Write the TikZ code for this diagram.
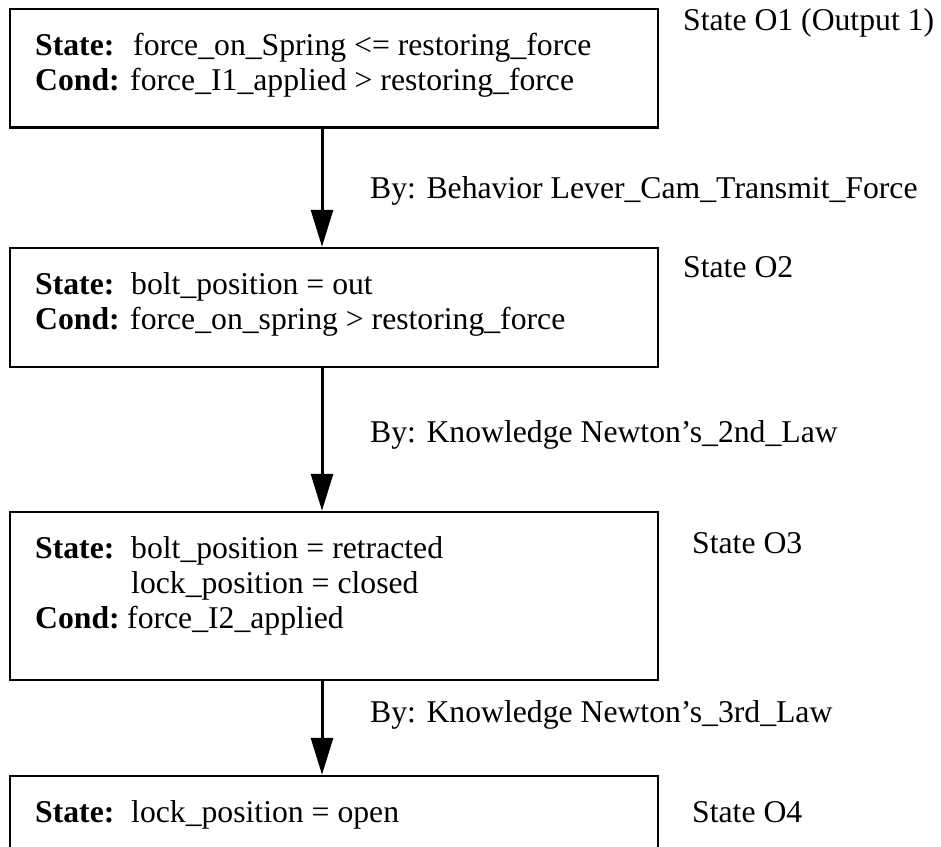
\documentclass[tikz,border=0pt]{standalone}
\usepackage{fontspec}
\setmainfont{Liberation Serif}
\usetikzlibrary{arrows.meta}
\begin{document}
\begin{tikzpicture}[x=1pt,y=-1pt,
  statebox/.style={draw,line width=2.5pt,rectangle,inner sep=0pt,minimum width=648pt},
  txt/.style={anchor=base west,inner sep=0pt,font=\fontsize{31.7}{35}\selectfont},
  flow/.style={line width=3pt,-{Triangle[width=22pt,length=37pt]}}]
\clip (0,0) rectangle (941,846);

% state boxes (the last one runs off the bottom edge)
\node[statebox,minimum height=118.5pt] (b1) at (334,68.25) {};
\node[statebox,minimum height=119pt]   (b2) at (334,307.5) {};
\node[statebox,minimum height=168pt]   (b3) at (334,596) {};
\node[statebox,minimum height=124pt]   (b4) at (334,838) {};

% box contents
\node[txt] (s1)  at (35,55)  {\textbf{State:}};
\node[txt] (s1v) at (133,55) {force\_on\_Spring <= restoring\_force};
\node[txt] (c1)  at (35,90)  {\textbf{Cond:}};
\node[txt] (c1v) at (130,90) {force\_I1\_applied > restoring\_force};

\node[txt] (s2)  at (35,294)  {\textbf{State:}};
\node[txt] (s2v) at (131,294) {bolt\_position = out};
\node[txt] (c2)  at (35,329)  {\textbf{Cond:}};
\node[txt] (c2v) at (130,329) {force\_on\_spring > restoring\_force};

\node[txt] (s3)  at (35,558)  {\textbf{State:}};
\node[txt] (s3v) at (131,558) {bolt\_position = retracted};
\node[txt] (s3w) at (131,593) {lock\_position = closed};
\node[txt] (c3)  at (35,628)  {\textbf{Cond:}};
\node[txt] (c3v) at (127,628) {force\_I2\_applied};

\node[txt] (s4)  at (35,822)  {\textbf{State:}};
\node[txt] (s4v) at (131,822) {lock\_position = open};

% state names beside the boxes
\node[txt] (n1) at (683,30)  {State O1 (Output 1)};
\node[txt] (n2) at (683,277) {State O2};
\node[txt] (n3) at (692,553) {State O3};
\node[txt] (n4) at (692,822) {State O4};

% transitions
\draw[flow] ([xshift=-12pt]b1.south) -- ([xshift=-12pt]b2.north);
\draw[flow] ([xshift=-12pt]b2.south) -- ([xshift=-12pt]b3.north);
\draw[flow] ([xshift=-12pt]b3.south) -- ([xshift=-12pt]b4.north);

\node[txt] (t1) at (370,198) {By: Behavior Lever\_Cam\_Transmit\_Force};
\node[txt] (t2) at (370,442) {By: Knowledge Newton's\_2nd\_Law};
\node[txt] (t3) at (370,722) {By: Knowledge Newton's\_3rd\_Law};
\end{tikzpicture}
\end{document}
